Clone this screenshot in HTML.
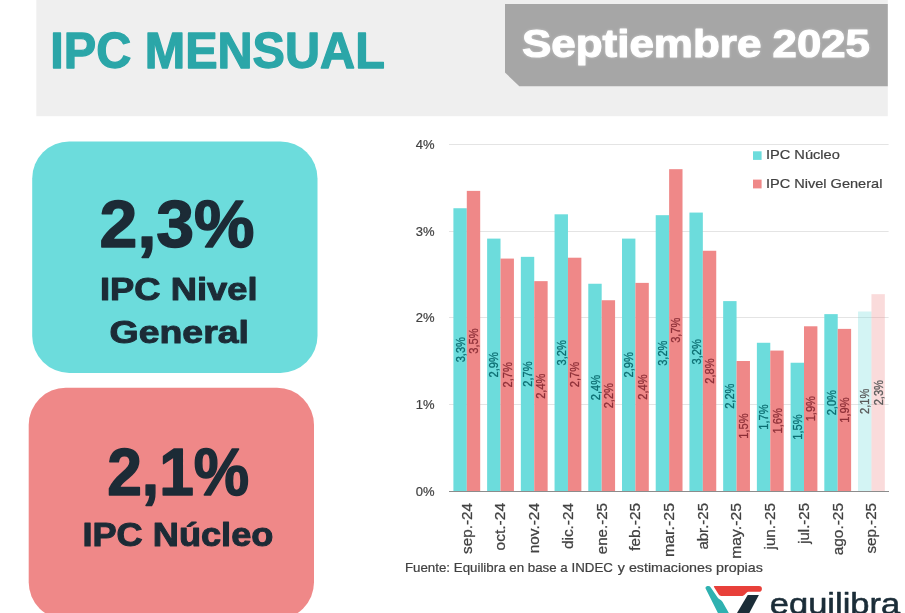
<!DOCTYPE html>
<html lang="es"><head><meta charset="utf-8"><title>IPC Mensual - Septiembre 2025</title>
<style>
html,body{margin:0;padding:0;background:#fff;}
body{width:905px;height:613px;overflow:hidden;position:relative;}
svg{position:absolute;left:0;top:0;display:block;}
text{font-family:"Liberation Sans", sans-serif;}
.b{font-weight:bold;}
.w{filter:drop-shadow(0 0 1.6px rgba(255,255,255,0.35));}
</style></head><body>
<svg width="905" height="613" viewBox="0 0 905 613">
<rect x="36.3" y="0" width="851.5" height="116.2" fill="#efefef"/>
<text class="b" x="50.3" y="68.1" font-size="49.8" fill="#2ba6a8" stroke="#2ba6a8" stroke-width="1.3" stroke-linejoin="round" textLength="334.5" lengthAdjust="spacingAndGlyphs">IPC MENSUAL</text>
<polygon points="505,4 887.8,4 887.8,86.2 519.3,86.2 505,72.6" fill="#a6a6a6"/>
<text class="b w" x="521.9" y="57.1" font-size="39.5" fill="#ffffff" stroke="#ffffff" stroke-width="1.1" stroke-linejoin="round" textLength="239.5" lengthAdjust="spacingAndGlyphs">Septiembre</text>
<text class="b w" x="772.6" y="57.1" font-size="39.5" fill="#ffffff" stroke="#ffffff" stroke-width="1.1" stroke-linejoin="round" textLength="97.2" lengthAdjust="spacingAndGlyphs">2025</text>
<rect x="32.2" y="141.4" width="285.3" height="231.5" rx="37" ry="37" fill="#6cdcdc"/>
<rect x="28.7" y="387.8" width="285.3" height="231.5" rx="37" ry="37" fill="#ef8888"/>
<text class="b" x="99.6" y="247.3" font-size="67" fill="#1c2b36" stroke="#1c2b36" stroke-width="1.5" stroke-linejoin="round" textLength="155" lengthAdjust="spacingAndGlyphs">2,3%</text>
<text class="b" x="100.0" y="299.8" font-size="32.2" fill="#1c2b36" stroke="#1c2b36" stroke-width="1.0" stroke-linejoin="round" textLength="157.5" lengthAdjust="spacingAndGlyphs">IPC Nivel</text>
<text class="b" x="109.5" y="342.6" font-size="32.2" fill="#1c2b36" stroke="#1c2b36" stroke-width="1.0" stroke-linejoin="round" textLength="139.5" lengthAdjust="spacingAndGlyphs">General</text>
<text class="b" x="107.2" y="495.0" font-size="67" fill="#1c2b36" stroke="#1c2b36" stroke-width="1.5" stroke-linejoin="round" textLength="142" lengthAdjust="spacingAndGlyphs">2,1%</text>
<text class="b" x="82.4" y="545.9" font-size="32.5" fill="#1c2b36" stroke="#1c2b36" stroke-width="1.0" stroke-linejoin="round" textLength="191" lengthAdjust="spacingAndGlyphs">IPC Núcleo</text>
<line x1="449.0" y1="404.5" x2="888.6" y2="404.5" stroke="#e4e4e4" stroke-width="1"/>
<line x1="449.0" y1="317.5" x2="888.6" y2="317.5" stroke="#e4e4e4" stroke-width="1"/>
<line x1="449.0" y1="231.5" x2="888.6" y2="231.5" stroke="#e4e4e4" stroke-width="1"/>
<line x1="449.0" y1="144.5" x2="888.6" y2="144.5" stroke="#e4e4e4" stroke-width="1"/>
<text x="434.6" y="495.8" font-size="13" fill="#414141" stroke="#414141" stroke-width="0.2" text-anchor="end">0%</text>
<text x="434.6" y="408.8" font-size="13" fill="#414141" stroke="#414141" stroke-width="0.2" text-anchor="end">1%</text>
<text x="434.6" y="321.8" font-size="13" fill="#414141" stroke="#414141" stroke-width="0.2" text-anchor="end">2%</text>
<text x="434.6" y="235.8" font-size="13" fill="#414141" stroke="#414141" stroke-width="0.2" text-anchor="end">3%</text>
<text x="434.6" y="148.8" font-size="13" fill="#414141" stroke="#414141" stroke-width="0.2" text-anchor="end">4%</text>
<rect x="453.40" y="208.23" width="13.40" height="282.97" fill="#6cdcdc"/>
<rect x="466.80" y="190.87" width="13.40" height="300.33" fill="#ef8888"/>
<rect x="487.12" y="238.61" width="13.40" height="252.59" fill="#6cdcdc"/>
<rect x="500.52" y="258.58" width="13.40" height="232.62" fill="#ef8888"/>
<rect x="520.84" y="256.84" width="13.40" height="234.36" fill="#6cdcdc"/>
<rect x="534.24" y="281.14" width="13.40" height="210.06" fill="#ef8888"/>
<rect x="554.56" y="214.31" width="13.40" height="276.89" fill="#6cdcdc"/>
<rect x="567.96" y="257.71" width="13.40" height="233.49" fill="#ef8888"/>
<rect x="588.28" y="283.75" width="13.40" height="207.45" fill="#6cdcdc"/>
<rect x="601.68" y="300.24" width="13.40" height="190.96" fill="#ef8888"/>
<rect x="622.00" y="238.61" width="13.40" height="252.59" fill="#6cdcdc"/>
<rect x="635.40" y="282.88" width="13.40" height="208.32" fill="#ef8888"/>
<rect x="655.72" y="215.18" width="13.40" height="276.02" fill="#6cdcdc"/>
<rect x="669.12" y="169.17" width="13.40" height="322.03" fill="#ef8888"/>
<rect x="689.44" y="212.57" width="13.40" height="278.63" fill="#6cdcdc"/>
<rect x="702.84" y="250.76" width="13.40" height="240.44" fill="#ef8888"/>
<rect x="723.16" y="301.11" width="13.40" height="190.09" fill="#6cdcdc"/>
<rect x="736.56" y="361.00" width="13.40" height="130.20" fill="#ef8888"/>
<rect x="756.88" y="342.77" width="13.40" height="148.43" fill="#6cdcdc"/>
<rect x="770.28" y="350.58" width="13.40" height="140.62" fill="#ef8888"/>
<rect x="790.60" y="362.74" width="13.40" height="128.46" fill="#6cdcdc"/>
<rect x="804.00" y="326.28" width="13.40" height="164.92" fill="#ef8888"/>
<rect x="824.32" y="314.13" width="13.40" height="177.07" fill="#6cdcdc"/>
<rect x="837.72" y="328.88" width="13.40" height="162.32" fill="#ef8888"/>
<rect x="858.04" y="311.52" width="13.40" height="179.68" fill="#6cdcdc" opacity="0.3"/>
<rect x="871.44" y="294.16" width="13.40" height="197.04" fill="#ef8888" opacity="0.3"/>
<line x1="449.0" y1="491.5" x2="889.0" y2="491.5" stroke="#8c8c8c" stroke-width="1.2"/>
<text transform="translate(464.6 349.7) rotate(-90)" font-size="12.5" fill="#0c6e72" stroke="#0c6e72" stroke-width="0.3" text-anchor="middle" textLength="25.3" lengthAdjust="spacingAndGlyphs">3,3%</text>
<text transform="translate(478.0 341.0) rotate(-90)" font-size="12.5" fill="#8e3038" stroke="#8e3038" stroke-width="0.3" text-anchor="middle" textLength="25.3" lengthAdjust="spacingAndGlyphs">3,5%</text>
<text transform="translate(498.3 364.9) rotate(-90)" font-size="12.5" fill="#0c6e72" stroke="#0c6e72" stroke-width="0.3" text-anchor="middle" textLength="25.3" lengthAdjust="spacingAndGlyphs">2,9%</text>
<text transform="translate(511.7 374.9) rotate(-90)" font-size="12.5" fill="#8e3038" stroke="#8e3038" stroke-width="0.3" text-anchor="middle" textLength="25.3" lengthAdjust="spacingAndGlyphs">2,7%</text>
<text transform="translate(532.0 374.0) rotate(-90)" font-size="12.5" fill="#0c6e72" stroke="#0c6e72" stroke-width="0.3" text-anchor="middle" textLength="25.3" lengthAdjust="spacingAndGlyphs">2,7%</text>
<text transform="translate(545.4 386.2) rotate(-90)" font-size="12.5" fill="#8e3038" stroke="#8e3038" stroke-width="0.3" text-anchor="middle" textLength="25.3" lengthAdjust="spacingAndGlyphs">2,4%</text>
<text transform="translate(565.8 352.8) rotate(-90)" font-size="12.5" fill="#0c6e72" stroke="#0c6e72" stroke-width="0.3" text-anchor="middle" textLength="25.3" lengthAdjust="spacingAndGlyphs">3,2%</text>
<text transform="translate(579.2 374.5) rotate(-90)" font-size="12.5" fill="#8e3038" stroke="#8e3038" stroke-width="0.3" text-anchor="middle" textLength="25.3" lengthAdjust="spacingAndGlyphs">2,7%</text>
<text transform="translate(599.5 387.5) rotate(-90)" font-size="12.5" fill="#0c6e72" stroke="#0c6e72" stroke-width="0.3" text-anchor="middle" textLength="25.3" lengthAdjust="spacingAndGlyphs">2,4%</text>
<text transform="translate(612.9 395.7) rotate(-90)" font-size="12.5" fill="#8e3038" stroke="#8e3038" stroke-width="0.3" text-anchor="middle" textLength="25.3" lengthAdjust="spacingAndGlyphs">2,2%</text>
<text transform="translate(633.2 364.9) rotate(-90)" font-size="12.5" fill="#0c6e72" stroke="#0c6e72" stroke-width="0.3" text-anchor="middle" textLength="25.3" lengthAdjust="spacingAndGlyphs">2,9%</text>
<text transform="translate(646.6 387.0) rotate(-90)" font-size="12.5" fill="#8e3038" stroke="#8e3038" stroke-width="0.3" text-anchor="middle" textLength="25.3" lengthAdjust="spacingAndGlyphs">2,4%</text>
<text transform="translate(666.9 353.2) rotate(-90)" font-size="12.5" fill="#0c6e72" stroke="#0c6e72" stroke-width="0.3" text-anchor="middle" textLength="25.3" lengthAdjust="spacingAndGlyphs">3,2%</text>
<text transform="translate(680.3 330.2) rotate(-90)" font-size="12.5" fill="#8e3038" stroke="#8e3038" stroke-width="0.3" text-anchor="middle" textLength="25.3" lengthAdjust="spacingAndGlyphs">3,7%</text>
<text transform="translate(700.6 351.9) rotate(-90)" font-size="12.5" fill="#0c6e72" stroke="#0c6e72" stroke-width="0.3" text-anchor="middle" textLength="25.3" lengthAdjust="spacingAndGlyphs">3,2%</text>
<text transform="translate(714.0 371.0) rotate(-90)" font-size="12.5" fill="#8e3038" stroke="#8e3038" stroke-width="0.3" text-anchor="middle" textLength="25.3" lengthAdjust="spacingAndGlyphs">2,8%</text>
<text transform="translate(734.4 396.2) rotate(-90)" font-size="12.5" fill="#0c6e72" stroke="#0c6e72" stroke-width="0.3" text-anchor="middle" textLength="25.3" lengthAdjust="spacingAndGlyphs">2,2%</text>
<text transform="translate(747.8 426.1) rotate(-90)" font-size="12.5" fill="#8e3038" stroke="#8e3038" stroke-width="0.3" text-anchor="middle" textLength="25.3" lengthAdjust="spacingAndGlyphs">1,5%</text>
<text transform="translate(768.1 417.0) rotate(-90)" font-size="12.5" fill="#0c6e72" stroke="#0c6e72" stroke-width="0.3" text-anchor="middle" textLength="25.3" lengthAdjust="spacingAndGlyphs">1,7%</text>
<text transform="translate(781.5 420.9) rotate(-90)" font-size="12.5" fill="#8e3038" stroke="#8e3038" stroke-width="0.3" text-anchor="middle" textLength="25.3" lengthAdjust="spacingAndGlyphs">1,6%</text>
<text transform="translate(801.8 427.0) rotate(-90)" font-size="12.5" fill="#0c6e72" stroke="#0c6e72" stroke-width="0.3" text-anchor="middle" textLength="25.3" lengthAdjust="spacingAndGlyphs">1,5%</text>
<text transform="translate(815.2 408.7) rotate(-90)" font-size="12.5" fill="#8e3038" stroke="#8e3038" stroke-width="0.3" text-anchor="middle" textLength="25.3" lengthAdjust="spacingAndGlyphs">1,9%</text>
<text transform="translate(835.5 402.7) rotate(-90)" font-size="12.5" fill="#0c6e72" stroke="#0c6e72" stroke-width="0.3" text-anchor="middle" textLength="25.3" lengthAdjust="spacingAndGlyphs">2,0%</text>
<text transform="translate(848.9 410.0) rotate(-90)" font-size="12.5" fill="#8e3038" stroke="#8e3038" stroke-width="0.3" text-anchor="middle" textLength="25.3" lengthAdjust="spacingAndGlyphs">1,9%</text>
<text transform="translate(869.2 401.4) rotate(-90)" font-size="12.5" fill="#5a5a5a" stroke="#5a5a5a" stroke-width="0.3" text-anchor="middle" textLength="25.3" lengthAdjust="spacingAndGlyphs">2,1%</text>
<text transform="translate(882.6 392.7) rotate(-90)" font-size="12.5" fill="#5a5a5a" stroke="#5a5a5a" stroke-width="0.3" text-anchor="middle" textLength="25.3" lengthAdjust="spacingAndGlyphs">2,3%</text>
<text transform="translate(471.7 503.0) rotate(-90)" font-size="14" fill="#414141" stroke="#414141" stroke-width="0.25" text-anchor="end" textLength="51.0" lengthAdjust="spacingAndGlyphs">sep.-24</text>
<text transform="translate(505.4 503.0) rotate(-90)" font-size="14" fill="#414141" stroke="#414141" stroke-width="0.25" text-anchor="end" textLength="47.4" lengthAdjust="spacingAndGlyphs">oct.-24</text>
<text transform="translate(539.1 503.0) rotate(-90)" font-size="14" fill="#414141" stroke="#414141" stroke-width="0.25" text-anchor="end" textLength="50.3" lengthAdjust="spacingAndGlyphs">nov.-24</text>
<text transform="translate(572.8 503.0) rotate(-90)" font-size="14" fill="#414141" stroke="#414141" stroke-width="0.25" text-anchor="end" textLength="46.0" lengthAdjust="spacingAndGlyphs">dic.-24</text>
<text transform="translate(606.5 503.0) rotate(-90)" font-size="14" fill="#414141" stroke="#414141" stroke-width="0.25" text-anchor="end" textLength="51.2" lengthAdjust="spacingAndGlyphs">ene.-25</text>
<text transform="translate(640.2 503.0) rotate(-90)" font-size="14" fill="#414141" stroke="#414141" stroke-width="0.25" text-anchor="end" textLength="47.7" lengthAdjust="spacingAndGlyphs">feb.-25</text>
<text transform="translate(674.0 503.0) rotate(-90)" font-size="14" fill="#414141" stroke="#414141" stroke-width="0.25" text-anchor="end" textLength="54.1" lengthAdjust="spacingAndGlyphs">mar.-25</text>
<text transform="translate(707.7 503.0) rotate(-90)" font-size="14" fill="#414141" stroke="#414141" stroke-width="0.25" text-anchor="end" textLength="46.6" lengthAdjust="spacingAndGlyphs">abr.-25</text>
<text transform="translate(741.4 503.0) rotate(-90)" font-size="14" fill="#414141" stroke="#414141" stroke-width="0.25" text-anchor="end" textLength="55.8" lengthAdjust="spacingAndGlyphs">may.-25</text>
<text transform="translate(775.1 503.0) rotate(-90)" font-size="14" fill="#414141" stroke="#414141" stroke-width="0.25" text-anchor="end" textLength="46.5" lengthAdjust="spacingAndGlyphs">jun.-25</text>
<text transform="translate(808.9 503.0) rotate(-90)" font-size="14" fill="#414141" stroke="#414141" stroke-width="0.25" text-anchor="end" textLength="40.8" lengthAdjust="spacingAndGlyphs">jul.-25</text>
<text transform="translate(842.6 503.0) rotate(-90)" font-size="14" fill="#414141" stroke="#414141" stroke-width="0.25" text-anchor="end" textLength="52.3" lengthAdjust="spacingAndGlyphs">ago.-25</text>
<text transform="translate(876.3 503.0) rotate(-90)" font-size="14" fill="#414141" stroke="#414141" stroke-width="0.25" text-anchor="end" textLength="50.5" lengthAdjust="spacingAndGlyphs">sep.-25</text>
<rect x="753" y="151.3" width="8.6" height="8.6" fill="#6cdcdc"/>
<rect x="753" y="179.6" width="8.6" height="8.8" fill="#ef8888"/>
<text x="765.9" y="158.8" font-size="12.8" fill="#414141" stroke="#414141" stroke-width="0.2" textLength="74" lengthAdjust="spacingAndGlyphs">IPC Núcleo</text>
<text x="765.9" y="187.5" font-size="12.8" fill="#414141" stroke="#414141" stroke-width="0.2" textLength="116.5" lengthAdjust="spacingAndGlyphs">IPC Nivel General</text>
<text x="404.9" y="571.8" font-size="12.6" fill="#414141" stroke="#414141" stroke-width="0.2" textLength="208" lengthAdjust="spacingAndGlyphs">Fuente: Equilibra en base a INDEC</text>
<text x="617.8" y="571.8" font-size="12.6" fill="#414141" stroke="#414141" stroke-width="0.2" textLength="145" lengthAdjust="spacingAndGlyphs">y estimaciones propias</text>
<g>
<path d="M714.6 585.9 L759 585.9 Q762 586.1 761.9 588.9 Q761.8 591.6 759 591.8 L748.4 591.8 Q747.3 591.8 746.5 592.7 L744.3 595.1 Q743.6 595.9 742.4 595.9 L721.3 595.9 Q719.4 595.9 718.5 594.3 L714 587 Q713.4 585.9 714.6 585.9 Z" fill="#e8403a"/>
<path d="M705.6 588.6 Q705 586.6 707.4 586 Q709.6 585.6 710.6 587.2 L717.6 597.6 Q718.3 598.7 719.6 599.3 Q721.6 600.2 722.6 602 L729.4 614 L718.4 614 Z" fill="#2fb1b0"/>
<path d="M747.7 595 L758.9 595 L748.8 614 L736.4 614 Z" fill="#1b2d38"/>
<text x="769.8" y="613.5" font-size="29.6" fill="#1b2d38" stroke="#1b2d38" stroke-width="0.55" stroke-linejoin="round" textLength="130.4" lengthAdjust="spacingAndGlyphs">equilibra</text>
</g>
</svg>
</body></html>
